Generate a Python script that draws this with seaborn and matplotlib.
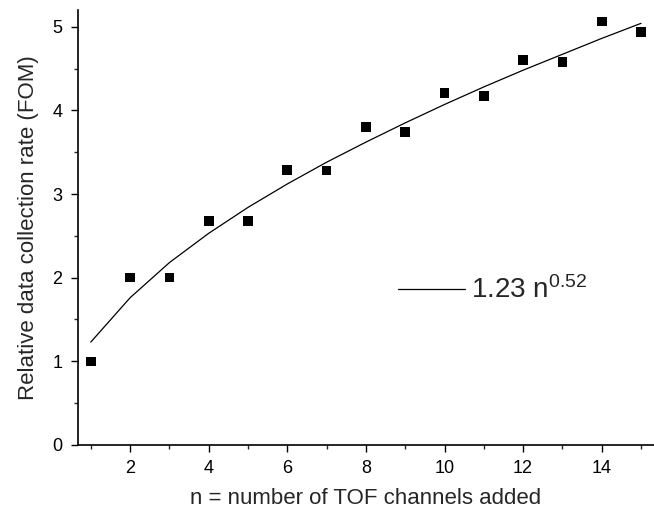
import matplotlib
matplotlib.use("Agg")
import matplotlib.pyplot as plt
import seaborn as sns
import pandas as pd
from matplotlib.ticker import MultipleLocator

n_channels = [1, 2, 3, 4, 5, 6, 7, 8, 9, 10, 11, 12, 13, 14, 15]
fom = [1.00, 2.00, 2.00, 2.68, 2.68, 3.29, 3.28, 3.80, 3.74, 4.21, 4.17, 4.60, 4.58, 5.06, 4.94]
# fitted curve as drawn (1.23 n^0.52)
fit_values = [1.23, 1.76, 2.18, 2.53, 2.84, 3.12, 3.38, 3.62, 3.85, 4.07, 4.28, 4.48, 4.67, 4.86, 5.04]
fit_label = r"1.23 n$^{0.52}$"

df = pd.DataFrame({"n": n_channels, "fom": fom, "fit": fit_values})

sns.set_style("ticks")
plt.rcParams["font.family"] = ["Liberation Sans", "DejaVu Sans"]
plt.rcParams["mathtext.fontset"] = "custom"
plt.rcParams["mathtext.rm"] = "Liberation Sans"
plt.rcParams["mathtext.it"] = "Liberation Sans"

fig = plt.figure(figsize=(6.54, 5.13), dpi=100)
ax = fig.add_axes([0.119, 0.1326, 0.881, 0.848])

sns.lineplot(data=df, x="n", y="fit", ax=ax, color="black", linewidth=0.9, label=fit_label)
sns.scatterplot(data=df, x="n", y="fom", ax=ax, marker="s", s=48, color="black",
                edgecolor="none", legend=False)

ax.set_xlim(0.67, 15.33)
ax.set_ylim(0, 5.2)
ax.xaxis.set_major_locator(MultipleLocator(2))
ax.xaxis.set_minor_locator(MultipleLocator(1))
ax.yaxis.set_major_locator(MultipleLocator(1))
ax.yaxis.set_minor_locator(MultipleLocator(0.5))
ax.tick_params(which="major", direction="out", length=5, width=1, labelsize=13,
               colors="black", pad=6)
ax.tick_params(which="minor", direction="out", length=3, width=1)
sns.despine(ax=ax)
for s in ["left", "bottom"]:
    ax.spines[s].set_linewidth(1.2)
    ax.spines[s].set_color("black")

ax.set_xlabel("n = number of TOF channels added", fontsize=16, labelpad=8)
ax.set_ylabel("Relative data collection rate (FOM)", fontsize=16, labelpad=10)

ax.legend(loc="center", bbox_to_anchor=(0.72, 0.355), frameon=False, fontsize=20,
          handlelength=2.4, handletextpad=0.2)

plt.savefig("out.png", dpi=100)
